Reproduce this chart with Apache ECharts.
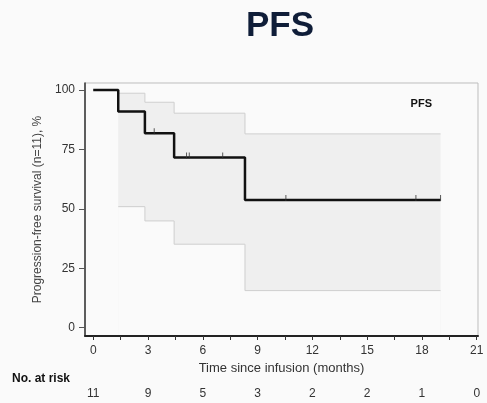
<!DOCTYPE html>
<html><head><meta charset="utf-8">
<script src="https://cdn.jsdelivr.net/npm/echarts@6/dist/echarts.min.js"></script>
<style>html,body{margin:0;padding:0;background:#fafafa}#c{width:487px;height:403px}</style>
</head><body><div id="c"></div>
<script>
// KM step curve (time months, survival %)
const kmTimes = [0, 1.37, 2.83, 4.43, 8.31, 19.02];
const kmSurv  = [100, 90.9, 81.8, 71.6, 53.7, 53.7];
// 95% CI bounds (start at first event)
const ciTimes = [1.37, 2.83, 4.43, 8.31, 19.02];
const ciUpper = [98.6, 94.8, 90.2, 81.5, 81.5];
const ciLower = [50.9, 44.9, 35.1, 15.6, 15.6];
// censoring marks
const censorTimes = [3.34, 5.11, 5.26, 7.09, 10.55, 17.67, 19.02];
const censorSurv  = [81.8, 71.6, 71.6, 71.6, 53.7, 53.7, 53.7];
// axes
const xTicks = [0, 3, 6, 9, 12, 15, 18, 21];
const xMinorTicks = [0, 1.5, 3, 4.5, 6, 7.5, 9, 10.5, 12, 13.5, 15, 16.5, 18, 19.5, 21];
const yTicks = [0, 25, 50, 75, 100];
const atRisk = [11, 9, 5, 3, 2, 2, 1, 0];

const font = 'Liberation Sans, Arial, sans-serif';
const bg = '#fafafa';
const chart = echarts.init(document.getElementById('c'), null, {renderer: 'canvas'});
const zip = (a, b) => a.map((v, i) => [v, b[i]]);

chart.setOption({
  backgroundColor: bg,
  animation: false,
  title: {
    text: 'PFS', left: 241, top: 4,
    textStyle: {fontFamily: font, fontSize: 35, fontWeight: 'bold', color: '#0f1d38'}
  },
  legend: {
    data: ['PFS'], right: 50, top: 93, icon: 'rect', itemWidth: 0, itemHeight: 0,
    textStyle: {fontFamily: font, fontSize: 11, fontWeight: 'bold', color: '#111'}
  },
  graphic: [{
    type: 'text', left: 12, top: 373,
    style: {text: 'No. at risk', font: 'bold 12px ' + font, fill: '#111'}
  }],
  grid: {left: 85, right: 9, top: 83, bottom: 67, show: true, borderColor: '#bdbdbd', borderWidth: 1, backgroundColor: bg},
  xAxis: [{
    type: 'value', min: -0.45, max: 21.07, z: 10,
    name: 'Time since infusion (months)', nameLocation: 'middle', nameGap: 21,
    nameTextStyle: {fontFamily: font, fontSize: 13, color: '#333'},
    axisLine: {show: true, onZero: false, lineStyle: {color: '#222', width: 2}},
    axisTick: {show: true, length: 4, customValues: xMinorTicks, lineStyle: {color: '#333', width: 1}},
    axisLabel: {customValues: xTicks, margin: 9, fontFamily: font, fontSize: 12, color: '#333'},
    splitLine: {show: false}
  }, {
    type: 'value', min: -0.45, max: 21.07, position: 'bottom', offset: 52,
    axisLine: {show: false}, axisTick: {show: false}, splitLine: {show: false},
    axisLabel: {customValues: xTicks, margin: 0, fontFamily: font, fontSize: 12, color: '#333',
      formatter: v => String(atRisk[xTicks.indexOf(v)])}
  }],
  yAxis: {
    type: 'value', min: -3.5, max: 102.9, z: 10,
    name: 'Progression-free survival (n=11), %', nameLocation: 'middle', nameGap: 36,
    nameTextStyle: {fontFamily: font, fontSize: 12, color: '#444'},
    axisLine: {show: true, onZero: false, lineStyle: {color: '#333', width: 1.5}},
    axisTick: {show: true, length: 6, customValues: yTicks, lineStyle: {color: '#555'}},
    axisLabel: {customValues: yTicks, margin: 10, fontFamily: font, fontSize: 12, color: '#333'},
    splitLine: {show: false}
  },
  series: [{
    name: 'ciUp', type: 'line', step: 'end', symbol: 'none', silent: true,
    data: zip(ciTimes, ciUpper),
    lineStyle: {color: '#cfcfcf', width: 1},
    areaStyle: {color: '#efefef', opacity: 1, origin: 'start'}, z: 1
  }, {
    name: 'ciLow', type: 'line', step: 'end', symbol: 'none', silent: true,
    data: zip(ciTimes, ciLower),
    lineStyle: {color: '#cfcfcf', width: 1},
    areaStyle: {color: bg, opacity: 1, origin: 'start'}, z: 2
  }, {
    name: 'PFS', type: 'line', step: 'end', symbol: 'none',
    data: zip(kmTimes, kmSurv),
    lineStyle: {color: '#111', width: 2.5}, itemStyle: {color: '#111'}, z: 5
  }, {
    name: 'censor', type: 'scatter', symbol: 'rect', symbolSize: [1, 6], symbolOffset: [0, -2],
    data: zip(censorTimes, censorSurv), itemStyle: {color: '#333'}, z: 6
  }]
});
</script></body></html>
